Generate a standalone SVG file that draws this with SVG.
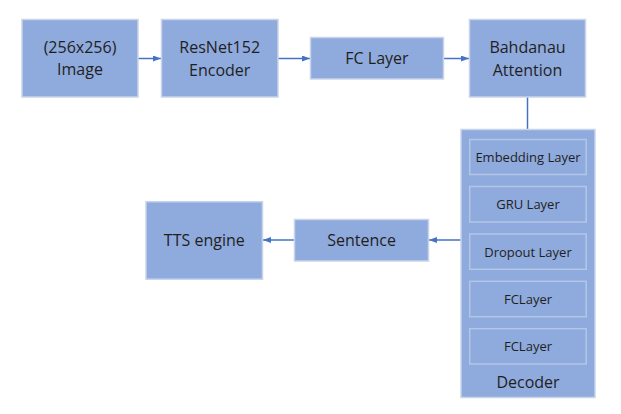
<svg xmlns="http://www.w3.org/2000/svg" width="621" height="414" viewBox="0 0 621 414">
<style>
.box{fill:#8FAADC;stroke:#C9D4EA;stroke-width:1.5}
.inner{fill:#8FAADC;stroke:#B4C6E7;stroke-width:1.5}
.t{font-family:"Open Sans","DejaVu Sans",sans-serif;font-size:16px;fill:#1F1F1F;text-anchor:middle;dominant-baseline:central}
.s{font-size:13px}
.c{fill:none;stroke:#4472C4;stroke-width:1.5}
</style>
<defs>
<marker id="arr" viewBox="0 0 8 6" refX="8" refY="3" markerWidth="8" markerHeight="6" markerUnits="userSpaceOnUse" orient="auto">
<path d="M0,0 L8,3 L0,6 z" fill="#4472C4"/>
</marker>
</defs>
<rect width="621" height="414" fill="#FFFFFF"/>
<g id="connectors">
<line class="c" x1="138" y1="58.5" x2="161" y2="58.5" marker-end="url(#arr)"/>
<line class="c" x1="278" y1="58.5" x2="310" y2="58.5" marker-end="url(#arr)"/>
<line class="c" x1="444" y1="58.5" x2="469" y2="58.5" marker-end="url(#arr)"/>
<line class="c" x1="527.5" y1="97" x2="527.5" y2="129.5"/>
<line class="c" x1="461" y1="240" x2="429" y2="240" marker-end="url(#arr)"/>
<line class="c" x1="294.5" y1="240" x2="263" y2="240" marker-end="url(#arr)"/>
</g>
<g id="image">
<rect class="box" x="22" y="19.5" width="116" height="77.5"/>
<text class="t" x="80" y="47">(256x256)</text>
<text class="t" x="80" y="69">Image</text>
</g>
<g id="resnet">
<rect class="box" x="161.5" y="19.5" width="116.5" height="77.5"/>
<text class="t" x="219.7" y="47">ResNet152</text>
<text class="t" x="219.7" y="69.5">Encoder</text>
</g>
<g id="fclayer">
<rect class="box" x="310.5" y="37.5" width="133" height="41.5"/>
<text class="t" x="377" y="58">FC Layer</text>
</g>
<g id="attention">
<rect class="box" x="469.5" y="19.5" width="116" height="77.5"/>
<text class="t" x="527.5" y="47">Bahdanau</text>
<text class="t" x="527.5" y="69.5">Attention</text>
</g>
<g id="decoder">
<rect class="box" x="461" y="129.5" width="134" height="268"/>
<text class="t" x="528" y="381.5">Decoder</text>
<g id="embedding">
<rect class="inner" x="469.7" y="139.5" width="116.5" height="35"/>
<text class="t s" x="528" y="157">Embedding Layer</text>
</g>
<g id="gru">
<rect class="inner" x="469.7" y="186.5" width="116.5" height="35.5"/>
<text class="t s" x="528" y="204.3">GRU Layer</text>
</g>
<g id="dropout">
<rect class="inner" x="469.7" y="234" width="116.5" height="35.3"/>
<text class="t s" x="528" y="251.7">Dropout Layer</text>
</g>
<g id="fclayer1">
<rect class="inner" x="469.7" y="281.3" width="116.5" height="35.4"/>
<text class="t s" x="528" y="299">FCLayer</text>
</g>
<g id="fclayer2">
<rect class="inner" x="469.7" y="328.7" width="116.5" height="35.3"/>
<text class="t s" x="528" y="346.3">FCLayer</text>
</g>
</g>
<g id="sentence">
<rect class="box" x="294.5" y="219.5" width="134" height="41.5"/>
<text class="t" x="361.5" y="240">Sentence</text>
</g>
<g id="tts">
<rect class="box" x="146" y="201.7" width="116.5" height="77.5"/>
<text class="t" x="204.3" y="240">TTS engine</text>
</g>
</svg>
